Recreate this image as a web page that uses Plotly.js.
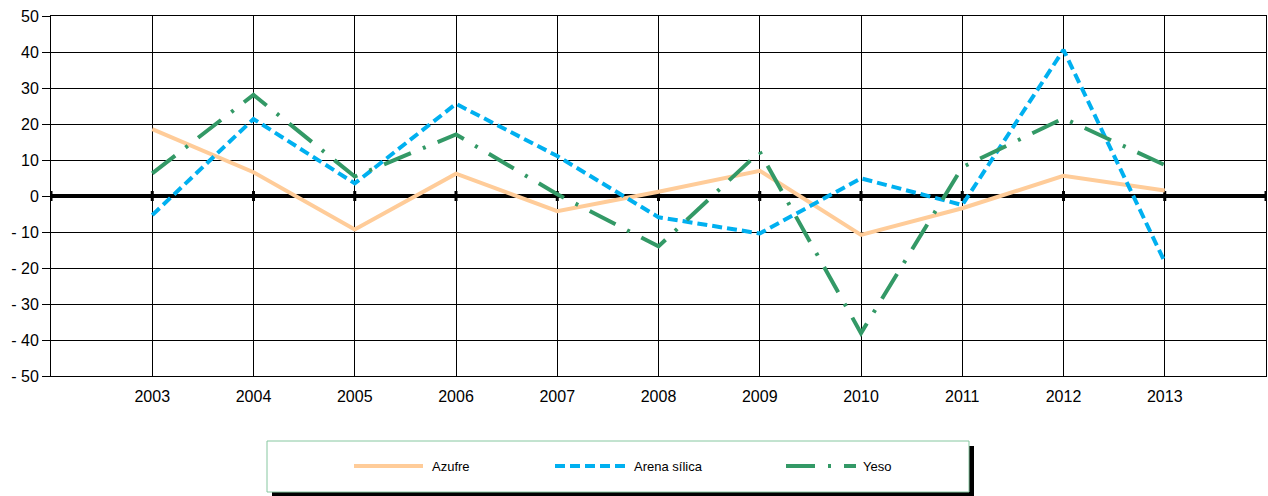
<!DOCTYPE html>
<html><head><meta charset="utf-8">
<script src="https://cdn.plot.ly/plotly-3.0.1.min.js"></script>
<style>html,body{margin:0;padding:0;background:#fff}#chart{width:1268px;height:496px}</style>
</head><body><div id="chart"></div>
<script>
// ---- data ----
const years = [2003, 2004, 2005, 2006, 2007, 2008, 2009, 2010, 2011, 2012, 2013];
const yearLabels = ['2003', '2004', '2005', '2006', '2007', '2008', '2009', '2010', '2011', '2012', '2013'];
const seriesNames = ['Azufre', 'Arena sílica', 'Yeso'];
const azufre = [18.6, 6.6, -9.3, 6.2, -4.2, 1.2, 7.0, -10.8, -3.4, 5.6, 1.5];
const arenaSilica = [-5.3, 21.4, 3.5, 25.6, 11.1, -5.9, -10.4, 4.9, -2.5, 40.6, -18.3];
const yeso = [6.3, 28.1, 5.4, 17.1, 0.5, -14.0, 12.3, -38.1, 8.0, 21.6, 8.6];
const yTickValues = [50, 40, 30, 20, 10, 0, -10, -20, -30, -40, -50];
const yTickLabels = ['50', '40', '30', '20', '10', '0', '- 10', '- 20', '- 30', '- 40', '- 50'];

// ---- layout helpers ----
const W = 1268, H = 496, M = {l: 51, r: 2, t: 16, b: 120};
const plotW = W - M.l - M.r, plotH = H - M.t - M.b;
const px = x => (x - M.l) / plotW;
const py = y => (H - M.b - y) / plotH;
const FONT = '"Liberation Sans", Arial, sans-serif';

const styles = [
  {color: '#FFCC99', dash: 'solid'},
  {color: '#00B0F0', dash: '10px,5px'},
  {color: '#339966', dash: '29px,13px,3px,13px'}
];
const seriesValues = [azufre, arenaSilica, yeso];

const traces = seriesValues.map((v, i) => ({
  type: 'scatter', mode: 'lines', x: years, y: v, name: seriesNames[i],
  line: {color: styles[i].color, width: 4, dash: styles[i].dash},
  showlegend: false
}));

const gridVals = [years[0] - 1].concat(years, [years[years.length - 1] + 1]);
const gridText = [''].concat(yearLabels, ['']);
const xRange = [gridVals[0], gridVals[gridVals.length - 1]];

const shapes = [];
// tick marks crossing the zero line (category axis ticks)
gridVals.forEach(g => {
  shapes.push({type: 'line', xref: 'x', yref: 'y', ysizemode: 'pixel', yanchor: 0,
    x0: g, x1: g, y0: -5, y1: 5, layer: 'below', line: {color: '#000', width: 3}});
});

// ---- custom legend box ----
const legendBox = [267, 441, 969, 492];
const shadowBox = [272, 446, 974, 496];
const legendLineY = 466;
const legendLines = [[354, 423], [555, 627], [786, 856]];
const legendTextX = [430, 632, 861];

shapes.push(
  {type: 'rect', xref: 'paper', yref: 'paper', x0: px(shadowBox[0]), x1: px(shadowBox[2]), y0: py(shadowBox[3]), y1: py(shadowBox[1]),
   fillcolor: '#000', line: {width: 0}},
  {type: 'rect', xref: 'paper', yref: 'paper', x0: px(legendBox[0]), x1: px(legendBox[2]), y0: py(legendBox[3]), y1: py(legendBox[1]),
   fillcolor: '#fff', line: {color: '#86C7A0', width: 1}}
);
const annotations = [];
seriesNames.forEach((n, i) => {
  shapes.push({type: 'line', xref: 'paper', yref: 'paper', x0: px(legendLines[i][0]), x1: px(legendLines[i][1]),
    y0: py(legendLineY), y1: py(legendLineY), line: {color: styles[i].color, width: 4, dash: styles[i].dash}});
  annotations.push({xref: 'paper', yref: 'paper', x: px(legendTextX[i]), y: py(legendLineY), xanchor: 'left', yanchor: 'middle',
    text: n, showarrow: false, font: {family: FONT, size: 13, color: '#000'}});
});

const layout = {
  width: W, height: H, margin: M,
  paper_bgcolor: '#fff', plot_bgcolor: '#fff',
  font: {family: FONT, size: 16, color: '#000'},
  showlegend: false,
  xaxis: {
    range: xRange, tickmode: 'array', tickvals: gridVals, ticktext: gridText,
    showgrid: true, gridcolor: '#000', gridwidth: 1,
    showline: true, linecolor: '#000', linewidth: 1, mirror: true,
    ticks: '', ticklabelstandoff: 6, zeroline: false,
    tickfont: {family: FONT, size: 16, color: '#000'}
  },
  yaxis: {
    range: [-50, 50], tickmode: 'array', tickvals: yTickValues, ticktext: yTickLabels,
    showgrid: true, gridcolor: '#000', gridwidth: 1,
    showline: true, linecolor: '#000', linewidth: 1, mirror: true,
    ticks: 'outside', ticklen: 8, tickcolor: '#000', tickwidth: 1,
    zeroline: true, zerolinecolor: '#000', zerolinewidth: 4,
    tickfont: {family: FONT, size: 16, color: '#000'}
  },
  shapes: shapes,
  annotations: annotations
};

Plotly.newPlot('chart', traces, layout, {staticPlot: true, displayModeBar: false});
</script>
</body></html>
